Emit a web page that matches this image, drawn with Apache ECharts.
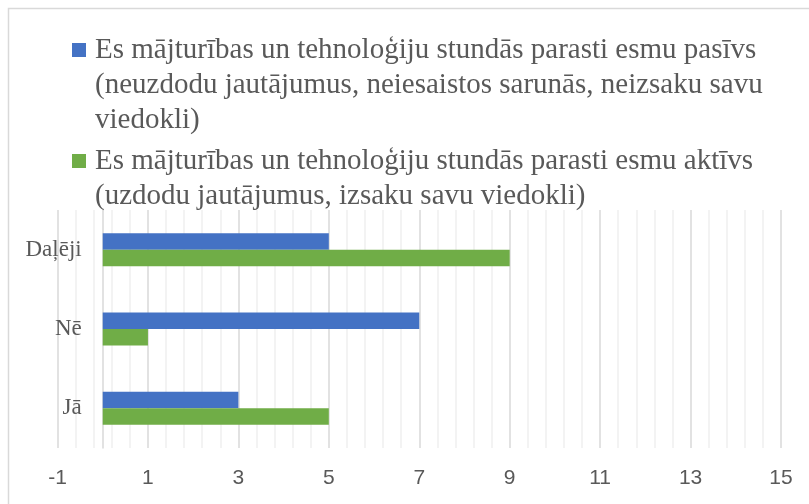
<html>
<head>
    <meta charset="utf-8">
    <title>Aktivitāte stundās</title>
    <script src="https://cdn.jsdelivr.net/npm/echarts@6/dist/echarts.min.js"></script>
</head>
<body style="margin:0;background:#fff">
<div id="main" style="width: 809px;height:504px;"></div>
<script type="text/javascript">
    // dati
    var categories = ['Jā', 'Nē', 'Daļēji'];
    var seriesNames = [
        'Es mājturības un tehnoloģiju stundās parasti esmu pasīvs\n(neuzdodu jautājumus, neiesaistos sarunās, neizsaku savu\nviedokli)',
        'Es mājturības un tehnoloģiju stundās parasti esmu aktīvs\n(uzdodu jautājumus, izsaku savu viedokli)'
    ];
    var pasivs = [3, 7, 5];
    var aktivs = [5, 1, 9];
    var colors = ['#4472C4', '#70AD47'];

    var myChart = echarts.init(document.getElementById('main'));

    // leģendas teksts ar kvadrātiņu pirmajā rindā
    function legendText(name) {
        var key = name === seriesNames[0] ? 'b' : 'g';
        var lines = name.split('\n');
        return lines.map(function (l, i) {
            return (i === 0 ? '{' + key + '|}' : '{ind|}') + '{t|' + l + '}';
        }).join('\n');
    }

    var serif = 'Liberation Serif';
    var lh = 35;

    myChart.setOption({
        color: colors,
        animation: false,
        graphic: [{
            type: 'rect',
            shape: {x: 8.5, y: 8.5, width: 900, height: 600},
            style: {fill: 'none', stroke: '#d9d9d9', lineWidth: 1.5},
            silent: true
        }],
        legend: {
            orient: 'vertical',
            left: 67,
            top: 32.5,
            padding: 0,
            itemGap: 6,
            itemWidth: 0,
            itemHeight: 0,
            selectedMode: false,
            data: seriesNames,
            formatter: legendText,
            textStyle: {
                fontFamily: serif,
                fontSize: 29,
                color: '#595959',
                lineHeight: lh,
                rich: {
                    b: {width: 14, height: 14, backgroundColor: colors[0], lineHeight: lh},
                    g: {width: 14, height: 14, backgroundColor: colors[1], lineHeight: lh},
                    ind: {width: 14, lineHeight: lh},
                    t: {
                        fontFamily: serif,
                        fontSize: 29,
                        color: '#595959',
                        lineHeight: lh,
                        padding: [0, 0, 0, 9]
                    }
                }
            }
        },
        grid: {left: 57.5, right: 28, top: 210, bottom: 56, outerBoundsMode: 'none', containLabel: false},
        xAxis: {
            type: 'value',
            min: -1,
            max: 15,
            interval: 2,
            axisLine: {show: false},
            axisTick: {show: false},
            axisLabel: {
                margin: 20,
                fontFamily: 'Liberation Sans',
                fontSize: 21,
                color: '#595959'
            },
            splitLine: {lineStyle: {color: '#d9d9d9', width: 1.5}},
            minorTick: {show: false, splitNumber: 5},
            minorSplitLine: {show: true, lineStyle: {color: '#efefef', width: 1.5}}
        },
        yAxis: {
            type: 'category',
            data: categories,
            offset: -45.2,
            axisLine: {onZero: false, lineStyle: {color: '#d9d9d9', width: 1.5}},
            axisTick: {length: 7, lineStyle: {color: '#d9d9d9', width: 1.5}},
            axisLabel: {
                margin: 21,
                fontFamily: serif,
                fontSize: 23,
                color: '#595959'
            }
        },
        series: [{
            name: seriesNames[0],
            type: 'bar',
            data: pasivs,
            barWidth: 16.5,
            barGap: '0%'
        }, {
            name: seriesNames[1],
            type: 'bar',
            data: aktivs,
            barWidth: 16.5,
            barGap: '0%'
        }]
    });
</script>
</body>
</html>
